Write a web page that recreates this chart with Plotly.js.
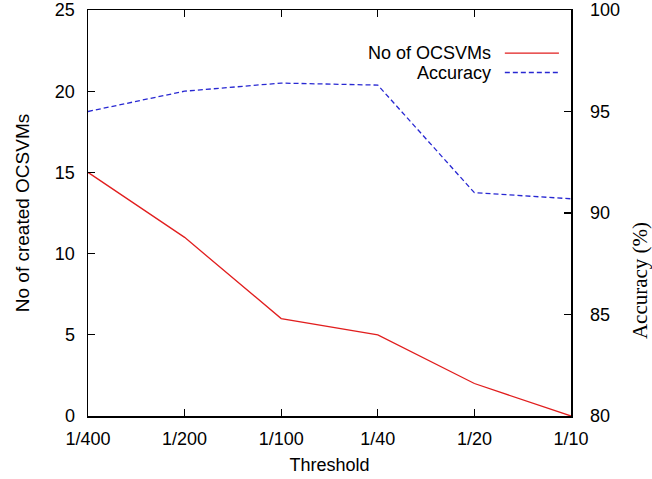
<!DOCTYPE html>
<html>
<head>
<meta charset="utf-8">
<script src="https://cdn.plot.ly/plotly-3.0.1.min.js"></script>
<style>html,body{margin:0;padding:0;background:#fff;}#chart{width:652px;height:479px;}</style>
</head>
<body>
<div id="chart"></div>
<script>
const thresholds = ['1/400', '1/200', '1/100', '1/40', '1/20', '1/10'];
const numOCSVMs = [15, 11, 6, 5, 2, 0];
const accuracy = [95.0, 96.0, 96.4, 96.3, 91.0, 90.7];
const leftTicks = [0, 5, 10, 15, 20, 25];
const rightTicks = [80, 85, 90, 95, 100];

const FONT = 'Liberation Sans, Arial, Helvetica, sans-serif';
const SERIF = 'Liberation Serif, Times New Roman, serif';
const red = 'rgb(225,30,30)';
const blue = 'rgb(40,40,210)';

const traces = [
  {x: thresholds, y: numOCSVMs, type: 'scatter', mode: 'lines', name: 'No of OCSVMs',
   line: {color: red, width: 1.3}, yaxis: 'y'},
  {x: thresholds, y: accuracy, type: 'scatter', mode: 'lines', name: 'Accuracy',
   line: {color: blue, width: 1.3, dash: '5px,3px'}, yaxis: 'y2'}
];

const axisCommon = {
  showgrid: false, zeroline: false, showline: true, linecolor: '#000', linewidth: 1.5,
  ticks: 'inside', ticklen: 7, tickwidth: 1.3, tickcolor: '#000',
  tickfont: {family: FONT, size: 18, color: '#000'}
};

const layout = {
  width: 652, height: 479,
  margin: {l: 88, r: 81, t: 10, b: 63},
  paper_bgcolor: '#fff', plot_bgcolor: '#fff',
  showlegend: false,
  font: {family: FONT, size: 18, color: '#000'},
  xaxis: Object.assign({}, axisCommon, {
    type: 'category', range: [0, thresholds.length - 1], mirror: 'ticks',
    ticklabelstandoff: 6,
    title: {text: 'Threshold', font: {family: FONT, size: 18}, standoff: 10}
  }),
  yaxis: Object.assign({}, axisCommon, {
    range: [0, 25], tickvals: leftTicks, ticktext: leftTicks.map(String),
    ticklabelstandoff: 8,
    title: {text: 'No of created OCSVMs', font: {family: FONT, size: 19}, standoff: 20}
  }),
  yaxis2: Object.assign({}, axisCommon, {
    overlaying: 'y', side: 'right', range: [80, 100],
    tickvals: rightTicks, ticktext: rightTicks.map(String),
    ticklabelstandoff: 14
  }),
  annotations: [
    {xref: 'paper', yref: 'paper', x: 0.8385, y: 0.894, xanchor: 'right', yanchor: 'middle',
     text: 'No of OCSVMs', showarrow: false, font: {family: FONT, size: 18, color: '#000'}},
    {xref: 'paper', yref: 'paper', x: 0.8385, y: 0.846, xanchor: 'right', yanchor: 'middle',
     text: 'Accuracy', showarrow: false, font: {family: FONT, size: 18, color: '#000'}},
    {xref: 'paper', yref: 'paper', x: 1.143, y: 0.3325, xanchor: 'center', yanchor: 'middle',
     textangle: -90, text: 'Accuracy (%)', showarrow: false,
     font: {family: SERIF, size: 21, color: '#000'}}
  ],
  shapes: [
    {type: 'line', xref: 'paper', yref: 'paper', x0: 0.863, x1: 0.975, y0: 0.894, y1: 0.894,
     line: {color: red, width: 1.3}},
    {type: 'line', xref: 'paper', yref: 'paper', x0: 0.863, x1: 0.975, y0: 0.846, y1: 0.846,
     line: {color: blue, width: 1.3, dash: '5px,3px'}}
  ]
};

Plotly.newPlot('chart', traces, layout, {displayModeBar: false, staticPlot: true});
</script>
</body>
</html>
